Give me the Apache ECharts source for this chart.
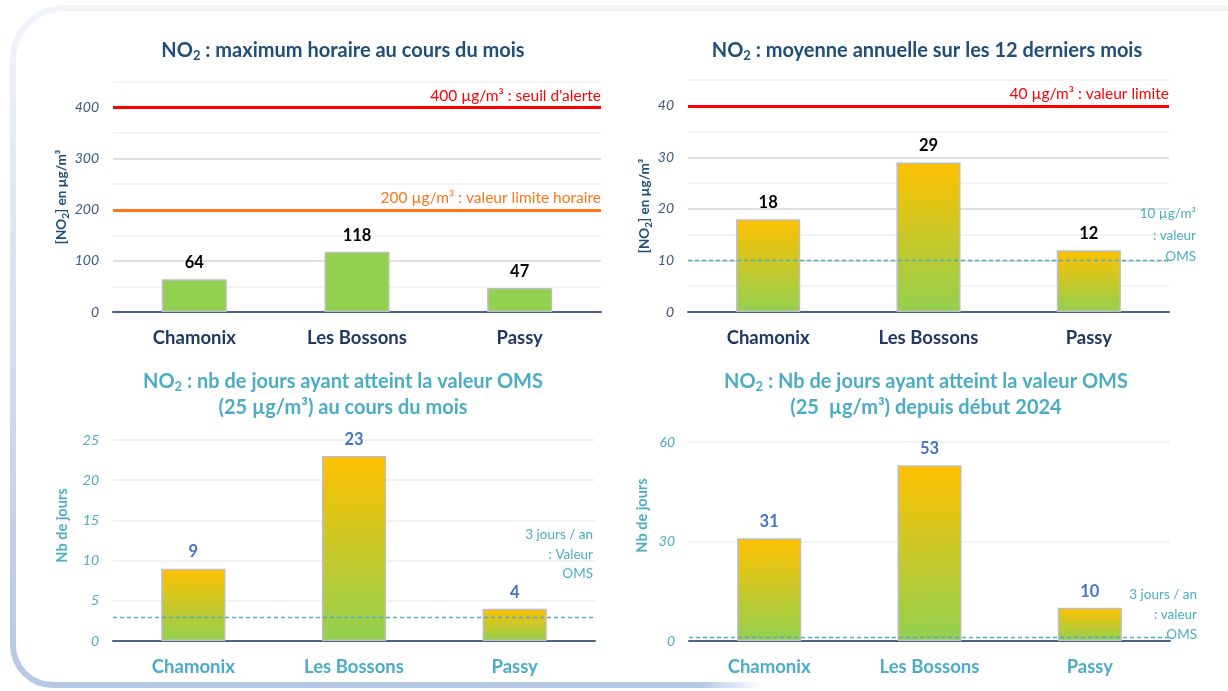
<!DOCTYPE html>
<html lang="fr">
<head>
<meta charset="utf-8">
<title>NO2 - Vallée de l'Arve</title>
<style>
  html, body { margin: 0; padding: 0; background: #fff; }
  #main { width: 1228px; height: 691px; }
</style>
</head>
<body>
<div id="main"></div>
<script src="https://cdn.jsdelivr.net/npm/echarts@6/dist/echarts.min.js"></script>
<script>
// données
var stations = ['Chamonix', 'Les Bossons', 'Passy'];
var maxHoraire = [64, 118, 47];
var moyenneAnnuelle = [18, 29, 12];
var joursMois = [9, 23, 4];
var joursAnnee = [31, 53, 10];

// seuils (lignes de référence)
var seuilsHoraire = [400, 200];
var seuilsAnnuel = [40, 10];
var seuilJoursMois = [3];
var seuilJoursAnnee = [1];

// axes y : max, pas
var yMax = [450, 45, 25, 60];
var yStep = [50, 5, 5, 30];

var FONT = 'Lato';
var navy = '#1f4e79';
var teal = '#4bacc6';

var myChart = echarts.init(document.getElementById('main'));

var gradient = {
    type: 'linear', x: 0, y: 0, x2: 0, y2: 1,
    colorStops: [
        {offset: 0, color: '#ffc000'},
        {offset: 1, color: '#92d050'}
    ]
};

function richTitle(color, lh) {
    return {
        a: {fontFamily: FONT, fontSize: 20, fontWeight: 'bold', color: color, lineHeight: lh},
        s: {fontFamily: FONT, fontSize: 13, fontWeight: 'bold', color: color, lineHeight: 14,
            verticalAlign: 'bottom', padding: [0, 0, lh > 24 ? 2 : 0, 0]}
    };
}

function richName(color, size) {
    return {
        a: {fontFamily: FONT, fontSize: size, fontWeight: 'bold', color: color, lineHeight: size + 4},
        s: {fontFamily: FONT, fontSize: size - 3.5, fontWeight: 'bold', color: color, lineHeight: size - 2, verticalAlign: 'bottom'}
    };
}

var grids = [
    {left: 113, right: 627, top: 82, bottom: 379},
    {left: 688, right: 59, top: 80, bottom: 379},
    {left: 113, right: 633, top: 440, bottom: 50},
    {left: 689, right: 58, top: 442, bottom: 50}
];

function xAx(i, top) {
    return {
        type: 'category', gridIndex: i, data: stations,
        axisTick: {show: false},
        axisLine: {lineStyle: {color: '#4a6386', width: 2}},
        axisLabel: {fontFamily: FONT, fontWeight: 'bold', fontSize: 18.5,
            color: top ? '#203864' : teal, margin: 17}
    };
}

function yAx(i, top, major, name, nameSize, nameGap, namePad) {
    return {
        type: 'value', gridIndex: i, min: 0, max: yMax[i], interval: yStep[i],
        name: name, nameLocation: 'middle', nameGap: nameGap,
        nameTextStyle: {rich: richName(top ? navy : teal, nameSize), padding: namePad},
        axisLine: {show: false}, axisTick: {show: false},
        splitLine: {lineStyle: {color: major ? ['#d6d6d6', '#efefef'] : ['#eeeeee'], width: 1.5}},
        axisLabel: {fontFamily: FONT, fontStyle: 'italic', fontSize: 14,
            color: top ? '#3e5680' : teal, margin: 14, showMaxLabel: !major,
            formatter: function(v) {
                if (major && v % (yStep[i] * 2) !== 0) return '';
                return v;
            }}
    };
}

function solidLine(val, color, text) {
    return {
        yAxis: val,
        lineStyle: {color: color, width: 3, type: 'solid'},
        label: {formatter: text, position: 'insideEndTop', color: color,
            fontFamily: FONT, fontSize: 15.5, distance: [0, 4]}
    };
}

function dashLine(val, text, dist, lh) {
    return {
        yAxis: val,
        lineStyle: {color: teal, width: 1.3, type: [4, 3]},
        label: {formatter: text, position: 'insideEndTop', color: teal,
            fontFamily: FONT, fontSize: 13.5, lineHeight: lh, align: 'right', distance: dist}
    };
}

function barSeries(i, data, color, labelColor, lines) {
    return {
        type: 'bar', xAxisIndex: i, yAxisIndex: i, data: data,
        barWidth: '40%',
        itemStyle: {color: color, borderColor: '#bfbfbf', borderWidth: 1.5},
        label: {show: true, position: 'top', distance: 8, fontFamily: FONT,
            fontWeight: 'bold', fontSize: 16.5, color: labelColor},
        markLine: {symbol: 'none', silent: true, animation: false, data: lines}
    };
}

myChart.setOption({
    backgroundColor: '#fff',
    animation: false,
    title: [{
        left: 338, top: 35, textAlign: 'center',
        text: '{a|NO}{s|2}{a| : maximum horaire au cours du mois}',
        textStyle: {rich: richTitle(navy, 22)}
    }, {
        left: 922, top: 35, textAlign: 'center',
        text: '{a|NO}{s|2}{a| : moyenne annuelle sur les 12 derniers mois}',
        textStyle: {rich: richTitle(navy, 22)}
    }, {
        left: 338, top: 364, textAlign: 'center',
        text: '{a|NO}{s|2}{a| : nb de jours ayant atteint la valeur OMS}\n{a|(25 µg/m³) au cours du mois}',
        textStyle: {rich: richTitle(teal, 26)}
    }, {
        left: 921, top: 364, textAlign: 'center',
        text: '{a|NO}{s|2}{a| : Nb de jours ayant atteint la valeur OMS}\n{a|(25  µg/m³) depuis début 2024}',
        textStyle: {rich: richTitle(teal, 26)}
    }],
    grid: grids,
    xAxis: [xAx(0, true), xAx(1, true), xAx(2, false), xAx(3, false)],
    yAxis: [
        yAx(0, true, true, '{a|[NO}{s|2}{a|] en µg/m³}', 13.5, 16, [0, 0, 0, 0]),
        yAx(1, true, true, '{a|[NO}{s|2}{a|] en µg/m³}', 13.5, 27, [0, 20, 0, 0]),
        yAx(2, false, false, '{a|Nb de jours}', 14.5, 41, [0, 0, 0, 30]),
        yAx(3, false, false, '{a|Nb de jours}', 14.5, 37, [0, 0, 0, 52])
    ],
    series: [
        barSeries(0, maxHoraire, '#92d050', '#000', [
            solidLine(seuilsHoraire[0], '#ff0000', '400 µg/m³ : seuil d\'alerte'),
            solidLine(seuilsHoraire[1], '#ff7518', '200 µg/m³ : valeur limite horaire')
        ]),
        barSeries(1, moyenneAnnuelle, gradient, '#000', [
            solidLine(seuilsAnnuel[0], '#ff0000', '40 µg/m³ : valeur limite'),
            dashLine(seuilsAnnuel[1], '10 µg/m³\n: valeur\nOMS', [-27, -7], 21.5)
        ]),
        barSeries(2, joursMois, gradient, '#4472c4', [
            dashLine(seuilJoursMois[0], '3 jours / an\n: Valeur\nOMS', [2, 33], 19.5)
        ]),
        barSeries(3, joursAnnee, gradient, '#4472c4', [
            dashLine(seuilJoursAnnee[0], '3 jours / an\n: valeur\nOMS', [-27, -7], 20)
        ])
    ],
    graphic: [{
        type: 'rect', silent: true, z: -10,
        shape: {x: 13, y: 8, width: 1300, height: 677, r: [52, 0, 0, 40]},
        style: {
            fill: 'none', lineWidth: 6,
            stroke: {type: 'linear', x: 0, y: 0, x2: 0, y2: 1,
                colorStops: [{offset: 0, color: '#f1f4fa'}, {offset: 1, color: '#b4c7e7'}]}
        }
    }, {
        type: 'rect', silent: true, z: -9,
        shape: {x: 700, y: 674, width: 528, height: 17},
        style: {
            fill: {type: 'linear', x: 0, y: 0, x2: 1, y2: 0,
                colorStops: [{offset: 0, color: 'rgba(255,255,255,0)'},
                    {offset: 0.12, color: '#fff'}, {offset: 1, color: '#fff'}]}
        }
    }]
});
</script>
</body>
</html>
